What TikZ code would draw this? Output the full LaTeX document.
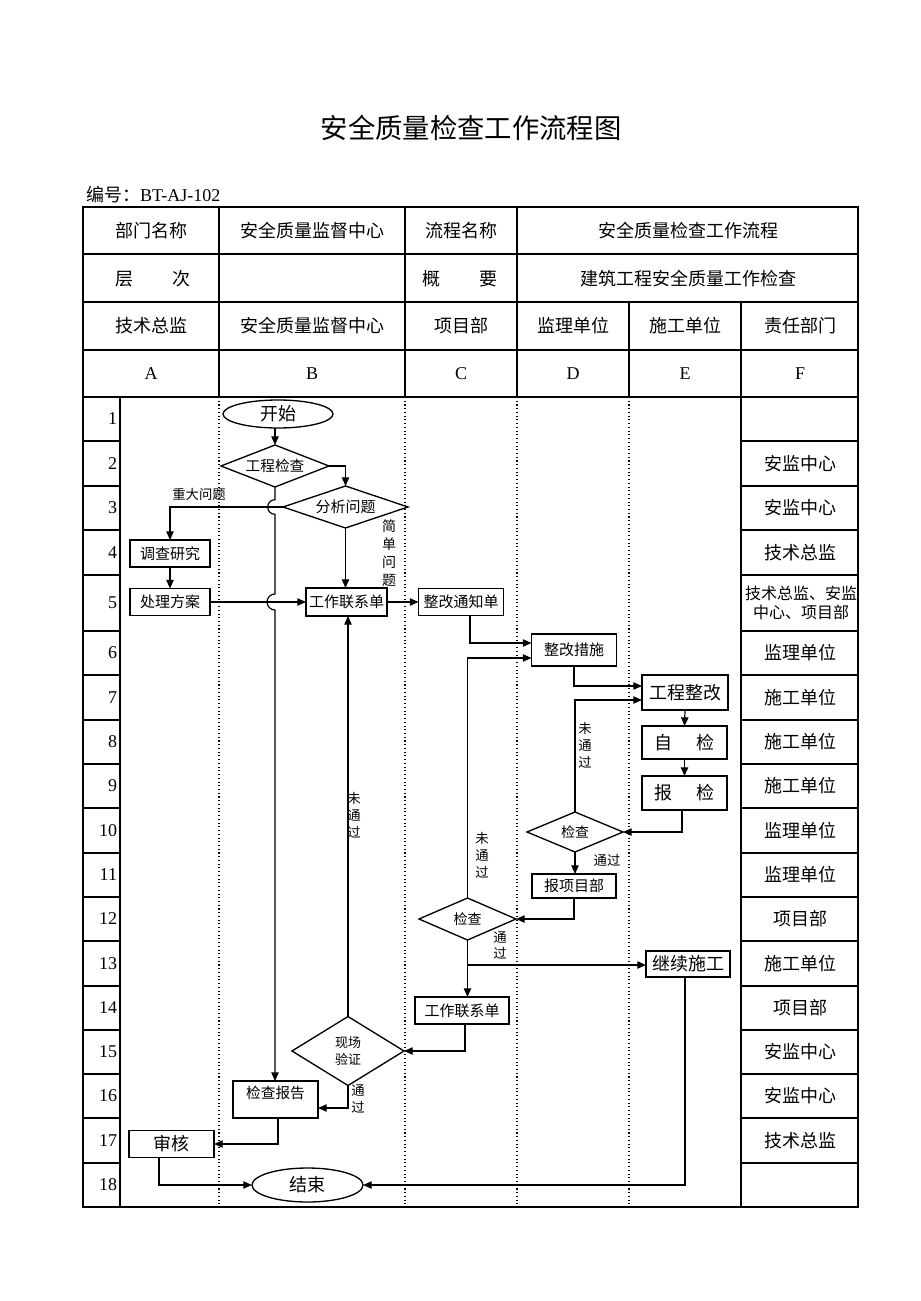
\documentclass[tikz,border=0pt]{standalone}
\usepackage{fontspec}
\setmainfont{Liberation Serif}
\newfontfamily\cjk{Noto Sans CJK SC}
\usetikzlibrary{arrows.meta,shapes.geometric}
\begin{document}
\begin{tikzpicture}[x=0.75pt,y=-0.75pt,
  every node/.style={inner sep=0pt,outer sep=0pt},
  tline/.style={line width=1.1pt},
  colsep/.style={line width=0.8pt,dotted},
  arr/.style={line width=0.9pt,-{Triangle[length=6.5pt,width=5.5pt]}},
  hdr/.style={font=\cjk\fontsize{13.5}{16}\selectfont},
  lat/.style={font=\fontsize{13.5}{16}\selectfont},
  fbox/.style 2 args={draw,line width=1pt,minimum width=#1*0.75pt,minimum height=#2*0.75pt,font=\cjk\fontsize{11.25}{13}\selectfont},
  bigbox/.style 2 args={fbox={#1}{#2},font=\cjk\fontsize{13.5}{16}\selectfont},
  dia/.style 2 args={diamond,draw,line width=1pt,minimum width=#1*0.75pt,minimum height=#2*0.75pt},
  term/.style 2 args={ellipse,draw,line width=1pt,minimum width=#1*0.75pt,minimum height=#2*0.75pt,font=\cjk\fontsize{13.5}{16}\selectfont},
  lab/.style={font=\cjk\fontsize{10}{12.75}\selectfont,align=center},
  dtext/.style={font=\cjk\fontsize{11}{13}\selectfont,align=center}
]
\useasboundingbox (0,0) rectangle (920,1301);
% title
\node[font=\cjk\fontsize{20.5}{24}\selectfont] (title) at (471,128) {安全质量检查工作流程图};
\node[anchor=west,font=\fontsize{13.5}{16}\selectfont] (code) at (86,195) {{\cjk 编号：}BT-AJ-102};
% table frame
\draw[tline] (83,207) rectangle (858,1207);
\foreach \y in {254,302,350,397} \draw[tline] (83,\y) -- (858,\y);
\draw[tline] (219,207) -- (219,397);
\draw[tline] (405,207) -- (405,397);
\draw[tline] (517,207) -- (517,397);
\draw[tline] (629,302) -- (629,397);
\draw[tline] (741,302) -- (741,1207);
\draw[tline] (120,397) -- (120,1207);
\foreach \x in {219,405,517,629} \draw[colsep] (\x,397) -- (\x,1207);
\foreach \y in {441,486,530,575,631,675,720,764,808,853,897,941,986,1030,1074,1118,1163} {
  \draw[tline] (83,\y) -- (120,\y);
  \draw[tline] (741,\y) -- (858,\y);
}
% header texts
\node[hdr] (h11) at (151,231) {部门名称};
\node[hdr] (h12) at (312,231) {安全质量监督中心};
\node[hdr] (h13) at (461,231) {流程名称};
\node[hdr] (h14) at (688,231) {安全质量检查工作流程};
\node[hdr] (h21) at (153,279) {层\hspace{2.2em}次};
\node[hdr] (h23) at (460,279) {概\hspace{2.2em}要};
\node[hdr] (h24) at (688,279) {建筑工程安全质量工作检查};
\node[hdr] (h31) at (151,326) {技术总监};
\node[hdr] (h32) at (312,326) {安全质量监督中心};
\node[hdr] (h33) at (461,326) {项目部};
\node[hdr] (h34) at (573,326) {监理单位};
\node[hdr] (h35) at (685,326) {施工单位};
\node[hdr] (h36) at (800,326) {责任部门};
\node[lat] (h41) at (151,374) {A};
\node[lat] (h42) at (312,374) {B};
\node[lat] (h43) at (461,374) {C};
\node[lat] (h44) at (573,374) {D};
\node[lat] (h45) at (685,374) {E};
\node[lat] (h46) at (800,374) {F};
% row numbers and responsible departments
\foreach \n/\a/\b/\t in {1/397/441/{},2/441/486/安监中心,3/486/530/安监中心,4/530/575/技术总监,6/631/675/监理单位,7/675/720/施工单位,8/720/764/施工单位,9/764/808/施工单位,10/808/853/监理单位,11/853/897/监理单位,12/897/941/项目部,13/941/986/施工单位,14/986/1030/项目部,15/1030/1074/安监中心,16/1074/1118/安监中心,17/1118/1163/技术总监,18/1163/1207/{}} {
  \node[lat,anchor=east] (r\n) at (117,{(\a+\b)/2}) {\n};
  \node[hdr] (f\n) at (800,{(\a+\b)/2}) {\t};
}
\node[lat,anchor=east] (r5) at (117,603) {5};
\node[font=\cjk\fontsize{12}{14.25}\selectfont,align=center] (f5) at (801,603) {技术总监、安监\\中心、项目部};
% flow nodes
\node[term={110}{28}] (start) at (278,414) {开始};
\node[dia={108}{42}] (d1) at (275,466) {};
\node[dtext] (d1t) at (d1) {工程检查};
\node[dia={125}{42}] (d2) at (345.5,507) {};
\node[dtext,font=\cjk\fontsize{11.25}{13}\selectfont] (d2t) at (d2) {分析问题};
\node[fbox={80}{27}] (inv) at (170,553.5) {调查研究};
\node[fbox={80}{27}] (plan) at (170,602) {处理方案};
\node[fbox={81}{28}] (wl1) at (346.5,602) {工作联系单};
\node[fbox={85}{27}] (rn) at (461,602) {整改通知单};
\node[fbox={85}{32}] (mm) at (574,650) {整改措施};
\node[bigbox={86}{35}] (wk) at (685,692.5) {工程整改};
\node[bigbox={85}{33}] (sc) at (684.5,742.5) {自\hspace{1.3em}检};
\node[bigbox={85}{34}] (rp) at (684.5,793) {报\hspace{1.3em}检};
\node[dia={96}{40}] (dD) at (575,832) {};
\node[dtext,font=\cjk\fontsize{10.5}{13}\selectfont] (dDt) at (dD) {检查};
\node[fbox={84}{24}] (bx) at (574,886) {报项目部};
\node[dia={97}{42}] (dC) at (467.5,919) {};
\node[dtext,font=\cjk\fontsize{10.5}{13}\selectfont] (dCt) at (dC) {检查};
\node[bigbox={84}{26}] (cont) at (688,964) {继续施工};
\node[fbox={94}{27}] (wl2) at (462,1010.5) {工作联系单};
\node[dia={112}{69}] (vf) at (348,1051) {};
\node[dtext,font=\cjk\fontsize{9.75}{13}\selectfont] (vft) at (vf) {现场\\验证};
\node[fbox={85}{37}] (rep) at (275.5,1099.5) {};
\node[dtext,font=\cjk\fontsize{11}{13}\selectfont] (rept) at (275.5,1093) {检查报告};
\node[bigbox={85}{27}] (aud) at (171.5,1144) {审核};
\node[term={111}{34}] (end) at (307.5,1185) {结束};
% labels
\node[lab] (l1) at (199,494) {重大问题};
\node[lab,font=\cjk\fontsize{10.5}{13.5}\selectfont] (l2) at (389,553) {简\\单\\问\\题};
\node[lab] (l3) at (585,745) {未\\通\\过};
\node[lab] (l4) at (607,860) {通过};
\node[lab] (l5) at (482,855) {未\\通\\过};
\node[lab,font=\cjk\fontsize{10}{12}\selectfont] (l6) at (500,945) {通\\过};
\node[lab] (l7) at (354,815) {未\\通\\过};
\node[lab,font=\cjk\fontsize{10}{12.75}\selectfont] (l8) at (358,1099) {通\\过};
% coordinates for bends
\coordinate (c1) at (470,643);
\coordinate (c2) at (467,658);
\coordinate (c3) at (574,686);
\coordinate (c4) at (574,700);
\coordinate (c5) at (682,832);
\coordinate (c6) at (468,965);
\coordinate (c7) at (685,1185);
\coordinate (c8) at (465,1051);
\coordinate (c9) at (349,1108);
\coordinate (c10) at (278,1118);
\coordinate (c11) at (159,1157);
\coordinate (h1) at (275,507);
\coordinate (h2) at (275,602);
% connectors
\draw[arr] (start.south -| d1.north) -- (d1.north);
\draw[arr] (d1.east) -| (d2.north);
\draw[arr] (d2.west) -| (inv.north);
\draw[arr] (inv.south) -- (plan.north);
\draw[arr] (plan.east) -- (wl1.west);
\draw[arr] (d2.south) -- (d2.south |- wl1.north);
\draw[arr] (wl1.east) -- (rn.west);
\draw[arr] (rn.south -| c1) -- (c1) -- (c1 -| mm.west);
\draw[arr] (dC.north) -- (dC.north |- c2) -- (c2 -| mm.west);
\draw[arr] (mm.south) -- (mm.south |- c3) -- (c3 -| wk.west);
\draw[arr] (dD.north) -- (dD.north |- c4) -- (c4 -| wk.west);
\draw[arr] (wk.south) -- (sc.north);
\draw[arr] (sc.south) -- (rp.north);
\draw[arr] (rp.south -| c5) -- (c5) -- (dD.east);
\draw[arr] (dD.south) -- (dD.south |- bx.north);
\draw[arr] (bx.south) |- (dC.east);
\draw[arr] (dC.south) -- (dC.south |- wl2.north);
\draw[arr] (c6) -- (c6 -| cont.west);
\draw[arr] (cont.south -| c7) -- (c7) -- (end.east);
\draw[arr] (wl2.south -| c8) -- (c8) -- (vf.east);
\draw[arr] (vf.north) -- (vf.north |- wl1.south);
\draw[arr] (vf.south) -- (vf.south |- c9) -- (c9 -| rep.east);
\draw[arr] (d1.south) -- ([yshift=5.5pt]h1) arc[start angle=90,end angle=270,radius=5.5pt]
   -- ([yshift=6pt]h2) arc[start angle=90,end angle=270,radius=6pt] -- (h2 |- rep.north);
\draw[arr] (c10) |- (aud.east);
\draw[arr] (c11) |- (end.west);
\end{tikzpicture}
\end{document}
